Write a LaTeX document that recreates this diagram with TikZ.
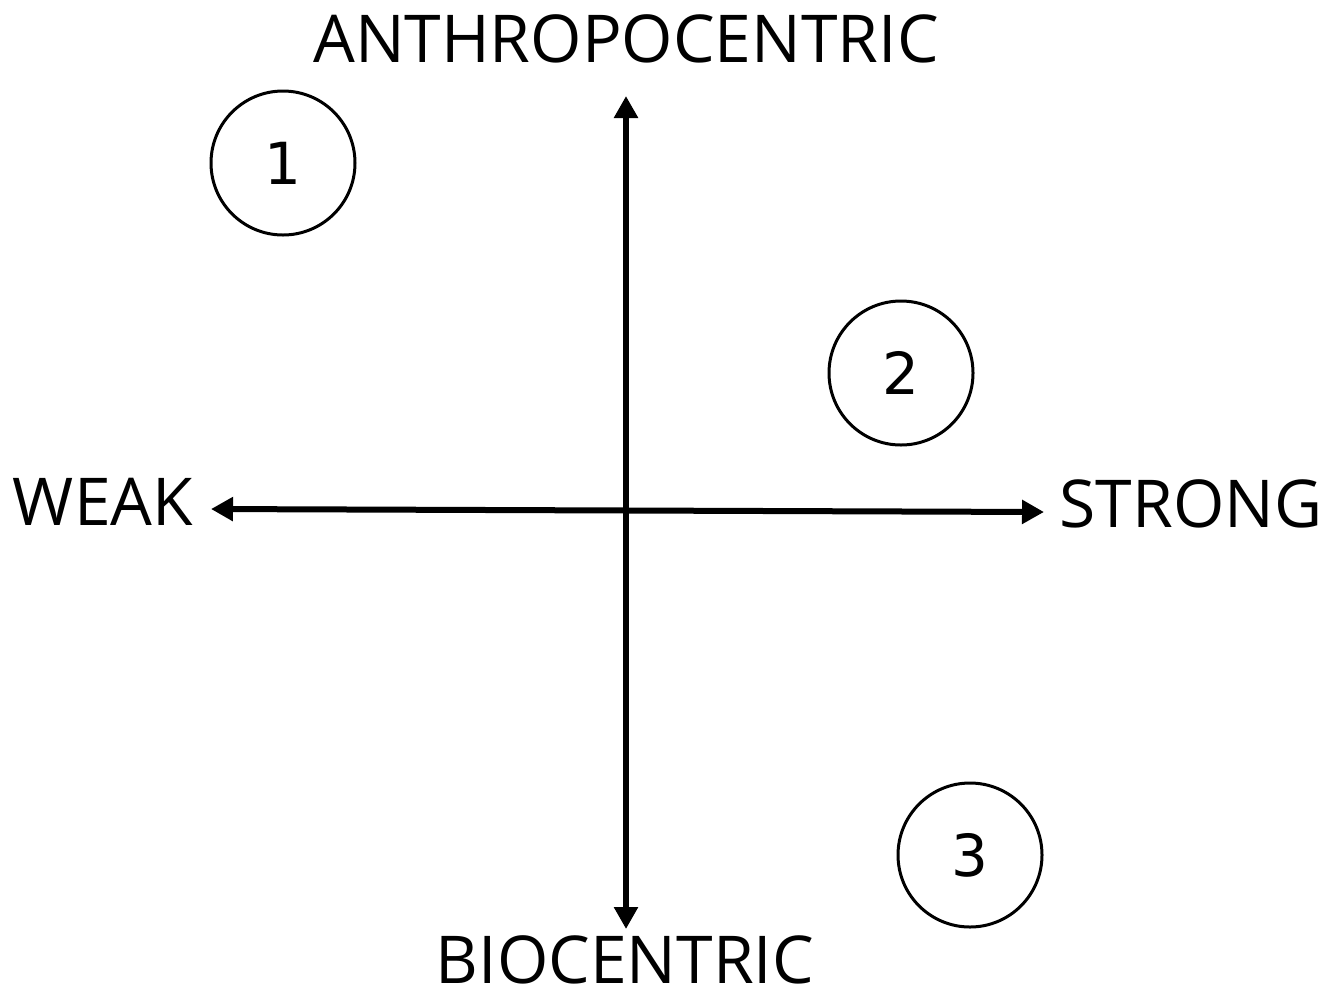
\documentclass[tikz,border=0pt]{standalone}
\usepackage{fontspec}
\setmainfont{Open Sans}
\newfontfamily\digitfont{DejaVu Sans}
\usetikzlibrary{arrows.meta}
\begin{document}
\begin{tikzpicture}[x=1pt,y=-1pt,
  axis/.style={line width=6pt, {Triangle[length=22pt,width=23pt]}-{Triangle[length=22pt,width=23pt]}},
  lbl/.style={inner sep=0pt, anchor=base, font=\fontsize{66}{70}\selectfont},
  num/.style={circle, draw, line width=3pt, minimum size=144pt, inner sep=0pt, font=\digitfont\fontsize{58}{62}\selectfont}]
\useasboundingbox (0,0) rectangle (1338,997);
\coordinate (top) at (626,96);
\coordinate (bot) at (626,929);
\coordinate (left) at (211,509);
\coordinate (right) at (1044,512);
\draw[axis] (top) -- (bot);
\draw[axis] (left) -- (right);
\node[lbl] (anthro) at (626,62) {ANTHROPOCENTRIC};
\node[lbl] (bio) at (625,983) {BIOCENTRIC};
\node[lbl] (weak) at (103,525) {WEAK};
\node[lbl] (strong) at (1191,527) {STRONG};
\node[num] (c1) at (283,163) {1};
\node[num] (c2) at (901,373) {2};
\node[num] (c3) at (970,855) {3};
\end{tikzpicture}
\end{document}
